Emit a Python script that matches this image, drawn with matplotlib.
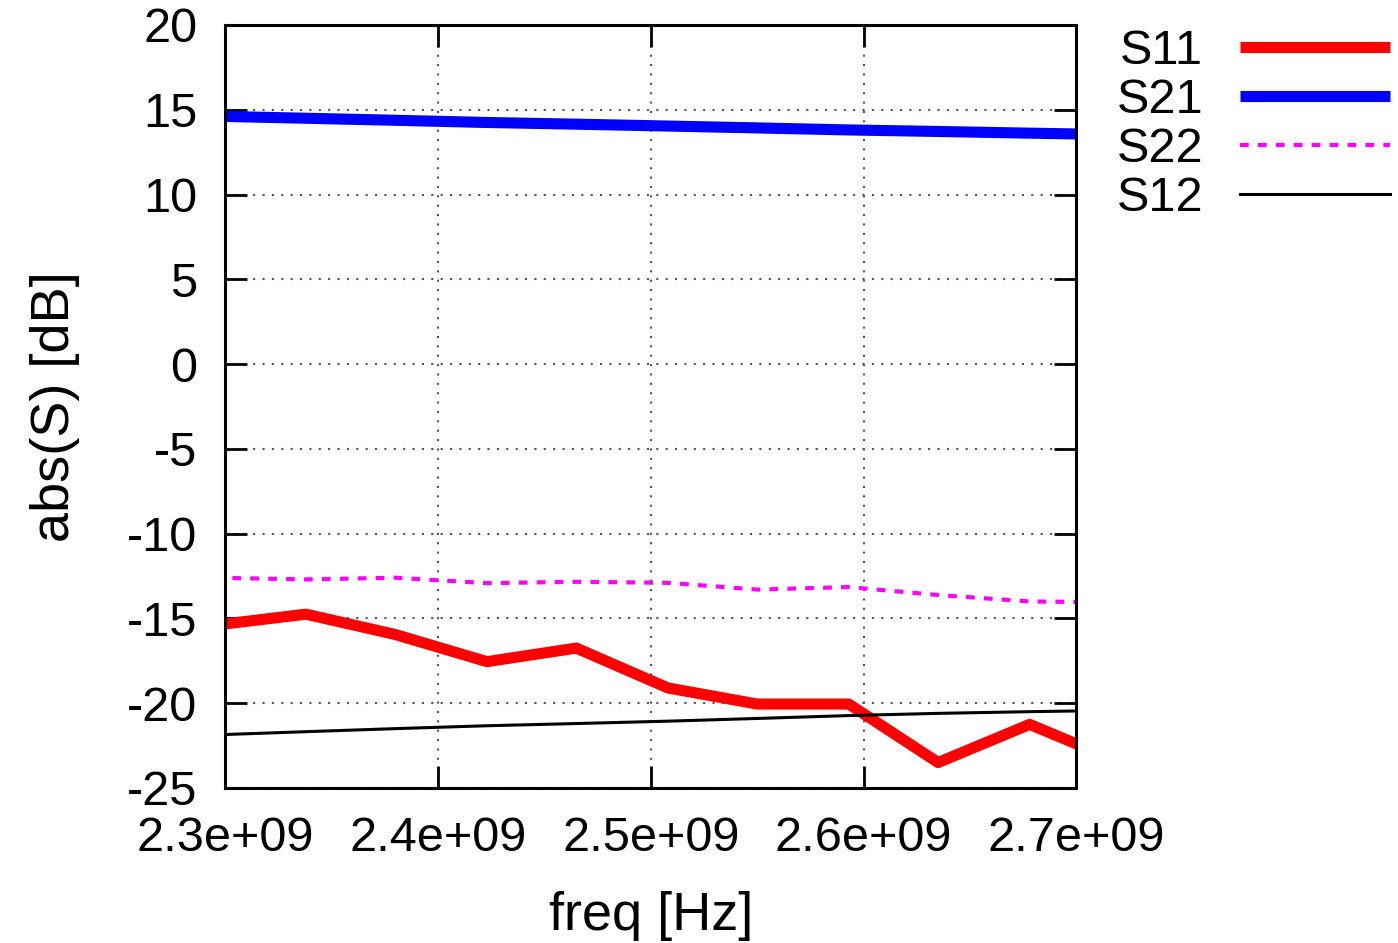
import matplotlib
matplotlib.use('Agg')
import matplotlib.pyplot as plt
import numpy as np

plt.rcParams['font.family'] = ['Liberation Sans', 'DejaVu Sans']

# frequency points (GHz)
freq = [2.295, 2.338, 2.380, 2.423, 2.465, 2.508, 2.550, 2.593, 2.635, 2.678, 2.720]
s11 = [-15.4, -14.75, -15.95, -17.55, -16.75, -19.1, -20.05, -20.05, -23.5, -21.25, -23.45]
s21 = [14.62, 14.5, 14.38, 14.25, 14.15, 14.04, 13.93, 13.81, 13.72, 13.62, 13.53]
s22 = [-12.6, -12.7, -12.6, -12.92, -12.84, -12.9, -13.3, -13.15, -13.62, -14.0, -14.05]
s12 = [-21.87, -21.68, -21.5, -21.33, -21.2, -21.06, -20.9, -20.73, -20.6, -20.5, -20.42]

xticks = [2.3e9, 2.4e9, 2.5e9, 2.6e9, 2.7e9]
yticks = [-25, -20, -15, -10, -5, 0, 5, 10, 15, 20]

f = np.array(freq) * 1e9

fig = plt.figure(figsize=(13.98, 9.43), dpi=100)
ax = fig.add_axes([0.161, 0.1644, 0.609, 0.8091])

ax.plot(f, s11, color='#ff0000', lw=8, label='S11', solid_capstyle='butt')
ax.plot(f, s21, color='#0000ff', lw=8, label='S21', solid_capstyle='butt')
ax.plot(f, s22, color='#ff00ff', lw=3, ls=(0, (2.1, 2.2)), label='S22')
ax.plot(f, s12, color='black', lw=2.2, label='S12')

ax.set_xlim(2.3e9, 2.7e9)
ax.set_ylim(-25, 20)
ax.set_xticks(xticks)
ax.set_xticklabels(['%.1e' % x for x in xticks])
ax.set_yticks(yticks)
ax.set_yticklabels([str(y) for y in yticks])

ax.grid(True, color='#555555', lw=1.5, ls=(0, (1, 3.5)))
ax.set_axisbelow(True)
ax.tick_params(direction='in', length=16, width=2, labelsize=35,
               top=True, right=True, pad=20)
for s in ax.spines.values():
    s.set_linewidth(2.2)

ax.set_xlabel('freq [Hz]', fontsize=39, labelpad=22)
ax.set_ylabel('abs(S) [dB]', fontsize=39, labelpad=34)

leg = ax.legend(loc='upper right', bbox_to_anchor=(0.998, 0.974),
                bbox_transform=fig.transFigure, frameon=False, fontsize=35,
                markerfirst=False, handlelength=3.1, handletextpad=0.75,
                labelspacing=0.08, borderaxespad=0.0, borderpad=0.1)

fig.savefig('out.png', dpi=100)
